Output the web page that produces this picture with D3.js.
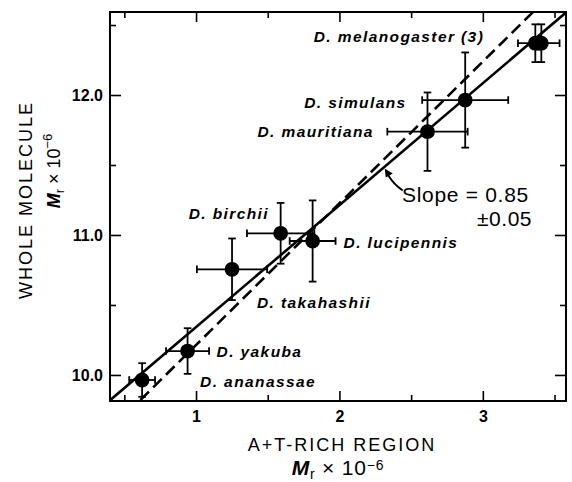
<!DOCTYPE html>
<html>
<head>
<meta charset="utf-8">
<script src="https://cdn.jsdelivr.net/npm/d3@7"></script>
<style>
  html, body { margin: 0; padding: 0; background: #fff; }
  svg { display: block; }
  text { font-family: "Liberation Sans", Arial, Helvetica, sans-serif; fill: #000; }
</style>
</head>
<body>
<svg id="chart" width="572" height="482"></svg>
<script>
// ---------- data ----------
const species   = ["D. ananassae", "D. yakuba", "D. takahashii", "D. birchii", "D. lucipennis",
                   "D. mauritiana", "D. simulans", "D. melanogaster (3)", "", ""];
const xValues   = [0.624, 0.941, 1.251, 1.590, 1.813, 2.614, 2.877, 3.390, 3.366, 3.408];
const yValues   = [9.964, 10.171, 10.755, 11.012, 10.957, 11.738, 11.964, 12.370, 12.370, 12.370];
const xErrors   = [0.09, 0.15, 0.245, 0.235, 0.16, 0.28, 0.30, 0.145, 0, 0];
const yErrors   = [0.12, 0.163, 0.22, 0.217, 0.29, 0.28, 0.34, 0, 0.135, 0.135];

const fitLineX    = [0.40, 3.585];     // solid regression line
const fitLineY    = [9.819, 12.594];
const unitLineX   = [0.612, 3.35];     // dashed line
const unitLineY   = [9.821, 12.593];

const xMajorTicks = [1, 2, 3];
const xMinorTicks = [0.5, 1.5, 2.5, 3.5];
const yMajorTicks = [10, 11, 12];
const yMinorTicks = [10.5, 11.5, 12.5];

const slopeText = ["Slope = 0.85", "\u00b10.05"];
const xTitle = "A+T-RICH REGION";
const yTitle = "WHOLE MOLECULE";

// ---------- layout ----------
const plot = { left: 110, right: 566, top: 12, bottom: 401 };
// label offsets (px) relative to each labelled point
const labelOffset = {
  "D. ananassae":        { dx: 58,   dy: 7 },
  "D. yakuba":           { dx: 29,   dy: 6 },
  "D. takahashii":       { dx: 25,   dy: 39 },
  "D. birchii":          { dx: -92,  dy: -14 },
  "D. lucipennis":       { dx: 31,   dy: 7 },
  "D. mauritiana":       { dx: -170, dy: 5 },
  "D. simulans":         { dx: -161, dy: 8 },
  "D. melanogaster (3)": { dx: -225, dy: -1 }
};

const svg = d3.select("#chart");
const x = d3.scaleLinear().domain([0.4, 3.58]).range([plot.left, plot.right]);
const y = d3.scaleLinear().domain([9.814, 12.593]).range([plot.bottom, plot.top]);

const data = xValues.map((d, i) => ({ name: species[i], x: d, y: yValues[i], ex: xErrors[i], ey: yErrors[i] }));

// clip
svg.append("defs").append("clipPath").attr("id", "clip")
  .append("rect").attr("x", plot.left).attr("y", plot.top)
  .attr("width", plot.right - plot.left).attr("height", plot.bottom - plot.top);

// ---------- axes (ticks inward on all four sides) ----------
const tickFont = g => g.selectAll("text")
  .style("font-size", "16px").style("font-weight", "bold").attr("fill", "#000");
const styleAxis = g => { g.select(".domain").remove(); g.selectAll("line").attr("stroke", "#000").attr("stroke-width", 1.6); };

svg.append("g").attr("transform", `translate(0,${plot.bottom})`)
  .call(d3.axisBottom(x).tickValues(xMajorTicks).tickSize(-10).tickPadding(10).tickFormat(d3.format("d")))
  .call(styleAxis).call(tickFont);
svg.append("g").attr("transform", `translate(0,${plot.bottom})`)
  .call(d3.axisBottom(x).tickValues(xMinorTicks).tickSize(-6).tickFormat(""))
  .call(styleAxis);
svg.append("g").attr("transform", `translate(0,${plot.top})`)
  .call(d3.axisTop(x).tickValues(xMajorTicks).tickSize(-10).tickFormat(""))
  .call(styleAxis);
svg.append("g").attr("transform", `translate(0,${plot.top})`)
  .call(d3.axisTop(x).tickValues(xMinorTicks).tickSize(-6).tickFormat(""))
  .call(styleAxis);

svg.append("g").attr("transform", `translate(${plot.left},0)`)
  .call(d3.axisLeft(y).tickValues(yMajorTicks).tickSize(-11).tickPadding(7).tickFormat(d3.format(".1f")))
  .call(styleAxis).call(tickFont);
svg.append("g").attr("transform", `translate(${plot.left},0)`)
  .call(d3.axisLeft(y).tickValues(yMinorTicks).tickSize(-6).tickFormat(""))
  .call(styleAxis);
svg.append("g").attr("transform", `translate(${plot.right},0)`)
  .call(d3.axisRight(y).tickValues(yMajorTicks).tickSize(-11).tickFormat(""))
  .call(styleAxis);
svg.append("g").attr("transform", `translate(${plot.right},0)`)
  .call(d3.axisRight(y).tickValues(yMinorTicks).tickSize(-6).tickFormat(""))
  .call(styleAxis);

// frame
svg.append("rect").attr("x", plot.left).attr("y", plot.top)
  .attr("width", plot.right - plot.left).attr("height", plot.bottom - plot.top)
  .attr("fill", "none").attr("stroke", "#000").attr("stroke-width", 2);

// ---------- lines ----------
const lineGen = d3.line().x(d => x(d[0])).y(d => y(d[1]));
const plotArea = svg.append("g").attr("clip-path", "url(#clip)");
plotArea.append("path").datum(unitLineX.map((d, i) => [d, unitLineY[i]]))
  .attr("d", lineGen).attr("fill", "none").attr("stroke", "#000")
  .attr("stroke-width", 2.6).attr("stroke-dasharray", "12,6");
plotArea.append("path").datum(fitLineX.map((d, i) => [d, fitLineY[i]]))
  .attr("d", lineGen).attr("fill", "none").attr("stroke", "#000")
  .attr("stroke-width", 2.6);

// ---------- error bars ----------
const cap = 3.8;
const eb = plotArea.append("g").attr("stroke", "#000").attr("stroke-width", 1.8);
data.filter(d => d.ey > 0).forEach(d => {
  const px = x(d.x), y1 = y(d.y - d.ey), y2 = y(d.y + d.ey);
  eb.append("line").attr("x1", px).attr("x2", px).attr("y1", y1).attr("y2", y2);
  eb.append("line").attr("x1", px - cap).attr("x2", px + cap).attr("y1", y1).attr("y2", y1);
  eb.append("line").attr("x1", px - cap).attr("x2", px + cap).attr("y1", y2).attr("y2", y2);
});
data.filter(d => d.ex > 0).forEach(d => {
  const py = y(d.y), x1 = x(d.x - d.ex), x2 = x(d.x + d.ex);
  eb.append("line").attr("x1", x1).attr("x2", x2).attr("y1", py).attr("y2", py);
  eb.append("line").attr("x1", x1).attr("x2", x1).attr("y1", py - cap).attr("y2", py + cap);
  eb.append("line").attr("x1", x2).attr("x2", x2).attr("y1", py - cap).attr("y2", py + cap);
});

// ---------- points ----------
plotArea.append("g").selectAll("circle").data(data).join("circle")
  .attr("cx", d => x(d.x)).attr("cy", d => y(d.y)).attr("r", 7.4).attr("fill", "#000");

// ---------- species labels ----------
svg.append("g").selectAll("text").data(data.filter(d => d.name)).join("text")
  .attr("x", d => x(d.x) + labelOffset[d.name].dx)
  .attr("y", d => y(d.y) + labelOffset[d.name].dy)
  .style("font-size", "15.5px").style("font-weight", "bold").style("font-style", "italic")
  .style("letter-spacing", "1.4px")
  .text(d => d.name);

// ---------- slope annotation ----------
const ax = 2.309, ay = fitLineY[0] + (ax - fitLineX[0]) * (fitLineY[1] - fitLineY[0]) / (fitLineX[1] - fitLineX[0]);
const tx = x(ax), ty = y(ay);
svg.append("path")
  .attr("d", `M${tx + 19},${ty + 23} Q${tx + 10},${ty + 17} ${tx + 4},${ty + 7}`)
  .attr("fill", "none").attr("stroke", "#000").attr("stroke-width", 2);
svg.append("path")
  .attr("d", `M${tx + 1},${ty + 1} L${tx + 9},${ty + 6} L${tx + 2},${ty + 10} Z`)
  .attr("fill", "#000");
svg.append("text").attr("x", 402).attr("y", 202)
  .style("font-size", "21px").style("letter-spacing", "0.7px").text(slopeText[0]);
svg.append("text").attr("x", 532).attr("y", 226).attr("text-anchor", "end")
  .style("font-size", "21px").style("letter-spacing", "0.5px").text(slopeText[1]);

// ---------- axis titles ----------
svg.append("text").attr("x", 342).attr("y", 451).attr("text-anchor", "middle")
  .style("font-size", "18px").style("letter-spacing", "2px").text(xTitle);
const mr = (big, small, raise) => (sel) => {
  sel.append("tspan").style("font-style", "italic").style("font-weight", "bold").style("font-size", big + "px").text("M");
  sel.append("tspan").style("font-size", small + "px").attr("dy", 4).text("r");
  sel.append("tspan").style("font-size", big + "px").attr("dy", -4).text(" \u00d7 10");
  sel.append("tspan").style("font-size", small + "px").attr("dy", -raise).text("\u22126");
};
svg.append("text").attr("x", 338).attr("y", 475).attr("text-anchor", "middle")
  .style("letter-spacing", "0.8px").call(mr(21, 14, 5));

svg.append("text").attr("transform", "translate(32,200) rotate(-90)").attr("text-anchor", "middle")
  .style("font-size", "18px").style("letter-spacing", "2px").text(yTitle);
svg.append("text").attr("transform", "translate(60,171) rotate(-90)").attr("text-anchor", "middle")
  .call(mr(18, 13, 8));
</script>
</body>
</html>
